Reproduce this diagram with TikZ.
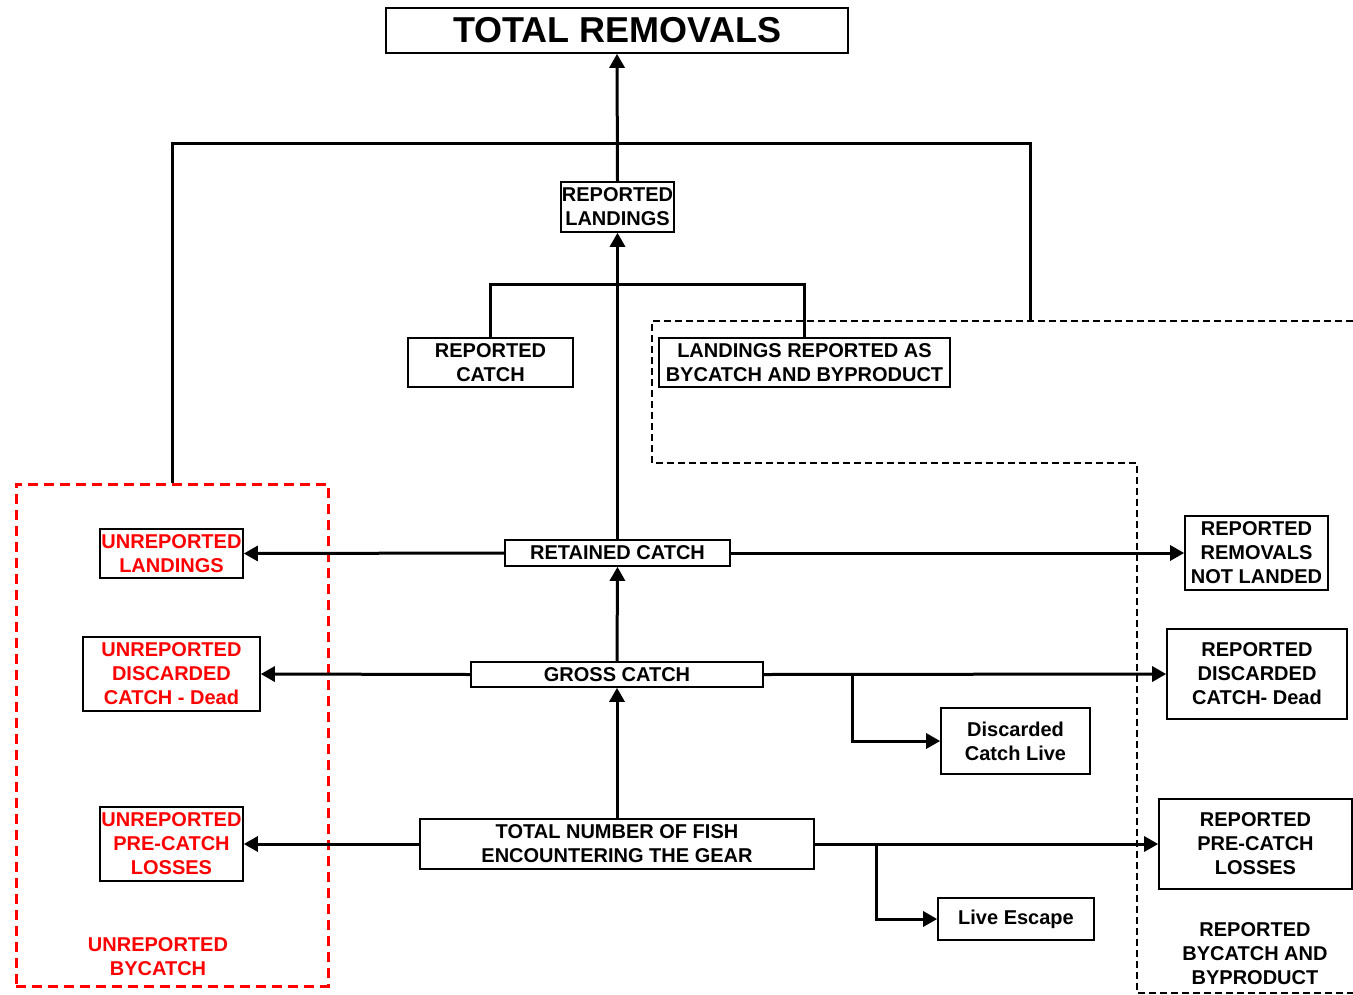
\documentclass[tikz,border=0pt]{standalone}
\usepackage{fontspec}
\setmainfont{Liberation Sans}
\usetikzlibrary{arrows.meta}
\definecolor{pured}{RGB}{255,0,0}
\tikzset{
  box/.style={draw=black, line width=1.6pt, fill=white, inner sep=0pt, align=center,
    font=\fontsize{20}{24}\selectfont\bfseries},
  redtext/.style={text=pured},
  conn/.style={line width=3pt},
  arr/.style={line width=3pt, -{Triangle[length=14pt,width=15pt]}},
  lbl/.style={inner sep=0pt, align=center, font=\fontsize{20}{24}\selectfont\bfseries},
}
\begin{document}
\begin{tikzpicture}[x=1pt,y=-1pt]
\useasboundingbox (0,0) rectangle (1353,994);
% dashed regions
\draw[black, line width=1.8pt, dash pattern=on 7pt off 4pt]
  (1353,321) -- (652,321) -- (652,463) -- (1137,463) -- (1137,993) -- (1353,993);
\coordinate (rb) at (1030,321);
\node[draw=pured, line width=3pt, dash pattern=on 10pt off 6pt, minimum width=312pt, minimum height=502pt, inner sep=0pt] (unrep) at (172,735) {};
% nodes
\node[box, minimum width=462pt, minimum height=45pt, font=\fontsize{36}{40}\selectfont\bfseries] (tr) at (617,30.5) {TOTAL REMOVALS};
\node[box, minimum width=113pt, minimum height=50pt] (rl) at (617.5,207) {REPORTED\\LANDINGS};
\node[box, minimum width=165pt, minimum height=49pt] (rc) at (490.5,362.5) {REPORTED\\CATCH};
\node[box, minimum width=291pt, minimum height=49pt] (lr) at (804.5,362.5) {LANDINGS REPORTED AS\\BYCATCH AND BYPRODUCT};
\node[box, minimum width=225pt, minimum height=26pt] (ret) at (617.5,553) {RETAINED CATCH};
\node[box, minimum width=292pt, minimum height=25pt] (gc) at (617,674.5) {GROSS CATCH};
\node[box, minimum width=394pt, minimum height=50pt] (tnf) at (617,844) {TOTAL NUMBER OF FISH\\ENCOUNTERING THE GEAR};
\node[box, redtext, minimum width=143pt, minimum height=49pt] (ul) at (171.5,553.5) {UNREPORTED\\LANDINGS};
\node[box, redtext, minimum width=177pt, minimum height=74pt] (ud) at (171.5,674) {UNREPORTED\\DISCARDED\\CATCH - Dead};
\node[box, redtext, minimum width=143pt, minimum height=74pt] (up) at (171.5,844) {UNREPORTED\\PRE-CATCH\\LOSSES};
\node[lbl, redtext] (ub) at (158,957) {UNREPORTED\\BYCATCH};
\node[box, minimum width=143pt, minimum height=74pt] (rr) at (1256.5,553) {REPORTED\\REMOVALS\\NOT LANDED};
\node[box, minimum width=180pt, minimum height=90pt] (rd) at (1257,674) {REPORTED\\DISCARDED\\CATCH- Dead};
\node[box, minimum width=193pt, minimum height=90pt] (rp) at (1255.5,844) {REPORTED\\PRE-CATCH\\LOSSES};
\node[lbl] (rbb) at (1255,954) {REPORTED\\BYCATCH AND\\BYPRODUCT};
\node[box, minimum width=149pt, minimum height=66pt] (dl) at (1015.5,741) {Discarded\\Catch Live};
\node[box, minimum width=156pt, minimum height=42pt] (le) at (1016,919) {Live Escape};
% connectors
\draw[conn] (unrep.north) |- (1030,143) -- (rb);
\draw[conn] (rc.north) -- ++(0,-53) -| (lr.north);
\draw[arr] (rl.north) -- (tr.south);
\draw[arr] (ret.north) -- (rl.south);
\draw[arr] (gc.north) -- (ret.south);
\draw[arr] (tnf.north) -- (gc.south);
\draw[arr] (ret.west) -- (ul.east);
\draw[arr] (ret.east) -- (rr.west);
\draw[arr] (gc.west) -- (ud.east);
\draw[arr] (gc.east) -- (rd.west);
\draw[arr] (gc.east) ++(89,0) |- (dl.west);
\draw[arr] (tnf.west) -- (up.east);
\draw[arr] (tnf.east) -- (rp.west);
\draw[arr] (tnf.east) ++(62,0) |- (le.west);
\end{tikzpicture}
\end{document}
